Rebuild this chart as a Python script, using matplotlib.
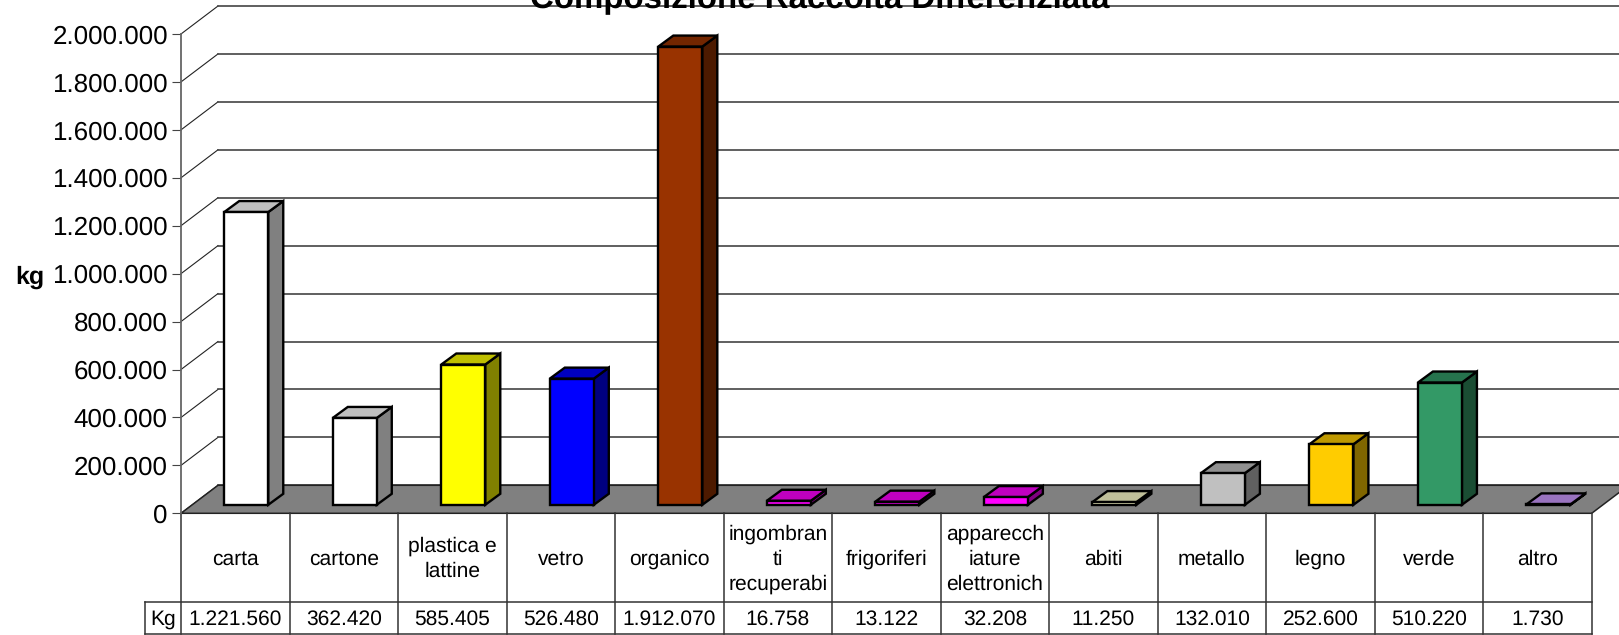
import matplotlib
matplotlib.use("Agg")
import matplotlib.pyplot as plt
from matplotlib.patches import Polygon

plt.rcParams['font.family'] = ['Liberation Sans', 'DejaVu Sans']
plt.rcParams['text.hinting'] = 'none'
plt.rcParams['text.hinting_factor'] = 1

categories = ["carta", "cartone", "plastica e\nlattine", "vetro", "organico",
              "ingombran\nti\nrecuperabi", "frigoriferi", "apparecch\niature\nelettronich",
              "abiti", "metallo", "legno", "verde", "altro"]
values = [1221560, 362420, 585405, 526480, 1912070, 16758, 13122, 32208,
          11250, 132010, 252600, 510220, 1730]
value_labels = ["1.221.560", "362.420", "585.405", "526.480", "1.912.070", "16.758", "13.122",
                "32.208", "11.250", "132.010", "252.600", "510.220", "1.730"]
y_ticks = [0, 200000, 400000, 600000, 800000, 1000000, 1200000, 1400000, 1600000, 1800000, 2000000]
y_tick_labels = ["0", "200.000", "400.000", "600.000", "800.000", "1.000.000", "1.200.000",
                 "1.400.000", "1.600.000", "1.800.000", "2.000.000"]
bar_colors = ["#ffffff", "#ffffff", "#ffff00", "#0000ff", "#993300", "#ff00ff", "#ff00ff",
              "#ff00ff", "#ffffcc", "#c0c0c0", "#ffcc00", "#339966", "#cc99ff"]

W, H = 1619, 635
AX_L, AX_R, AX_B, AX_T = 181, 1591.7, 513.3, 34

fig = plt.figure(figsize=(W / 100, H / 100), dpi=100, facecolor="white")
ax = fig.add_axes([AX_L / W, 1 - AX_B / H, (AX_R - AX_L) / W, (AX_B - AX_T) / H])
ax.set_xlim(0, 13)
ax.set_ylim(0, 2000000)
ax.patch.set_visible(False)

# pixel sizes expressed in data units
px_x = 13 / (AX_R - AX_L)
px_y = 2000000 / (AX_B - AX_T)
wall_dx, wall_dy = 37 * px_x, 28 * px_y
bar_dx, bar_dy = 15 * px_x, 11 * px_y
bar_w = 44 * px_x


def shade(color, f):
    rgb = matplotlib.colors.to_rgb(color)
    return tuple(c * f for c in rgb)


# floor and walls
ax.add_patch(Polygon([(0, 0), (13, 0), (13 + wall_dx, wall_dy), (wall_dx, wall_dy)],
                     facecolor="#808080", edgecolor="#222222", lw=1.1, clip_on=False, zorder=2))
for t in y_ticks:
    ax.plot([0, wall_dx], [t, t + wall_dy], color="#222222", lw=0.8, clip_on=False, zorder=1)
    ax.plot([wall_dx, 13 + wall_dx], [t + wall_dy, t + wall_dy], color="#444444", lw=1.2,
            clip_on=False, zorder=1)

# bars
off_x = (wall_dx - bar_dx) / 2
off_y = (wall_dy - bar_dy) / 2
for i, (v, c) in enumerate(zip(values, bar_colors)):
    x0 = i + 0.5 - bar_w / 2 + off_x
    x1 = x0 + bar_w
    y0 = off_y
    y1 = y0 + v
    kw = dict(edgecolor="black", lw=1.7, joinstyle="miter", clip_on=False, zorder=3)
    ax.add_patch(Polygon([(x1, y0), (x1 + bar_dx, y0 + bar_dy), (x1 + bar_dx, y1 + bar_dy), (x1, y1)],
                         facecolor=shade(c, 0.5), **kw))
    ax.add_patch(Polygon([(x0, y1), (x1, y1), (x1 + bar_dx, y1 + bar_dy), (x0 + bar_dx, y1 + bar_dy)],
                         facecolor=shade(c, 0.75), **kw))
    ax.add_patch(Polygon([(x0, y0), (x1, y0), (x1, y1), (x0, y1)], facecolor=c, **kw))

# axis
ax.set_xticks([])
ax.set_yticks(y_ticks)
ax.set_yticklabels(y_tick_labels, fontsize=18.4, color="black")
ax.tick_params(axis="y", length=6.5, width=0.8, pad=3, color="#444444")
for s in ["top", "right", "bottom"]:
    ax.spines[s].set_visible(False)
ax.spines["left"].set_color("#666666")
ax.spines["left"].set_linewidth(1.3)

# table under the plot
row1 = -(601.7 - AX_B) * px_y
row2 = -(633.6 - AX_B) * px_y
lab_y = -(559 - AX_B) * px_y
val_y = -(619 - AX_B) * px_y
kg_x = -36.3 * px_x
line = dict(color="#333333", lw=1.1, clip_on=False, zorder=2)
for i in range(14):
    ax.plot([i, i], [0, row2], **line)
ax.plot([kg_x, 13], [row1, row1], **line)
ax.plot([kg_x, 13], [row2, row2], **line)
ax.plot([kg_x, kg_x], [row1, row2], **line)
for i, (c, v) in enumerate(zip(categories, value_labels)):
    ax.text(i + 0.5, lab_y, c, ha="center", va="center", fontsize=15.2, linespacing=1.35,
            color="black", clip_on=False)
    ax.text(i + 0.5, val_y, v, ha="center", va="center", fontsize=15.2, color="black", clip_on=False)
ax.text(kg_x / 2, val_y, "Kg", ha="center", va="center", fontsize=15.2, color="black", clip_on=False)

# titles
fig.text(820 / W, 1 - 8.5 / H, "Composizione Raccolta Differenziata", ha="center", va="baseline",
         fontsize=23.5, fontweight="bold", color="black")
fig.text(30 / W, 1 - 277 / H, "kg", ha="center", va="center", fontsize=18, fontweight="bold",
         color="black")

fig.savefig("out.png", dpi=100, facecolor="white")
